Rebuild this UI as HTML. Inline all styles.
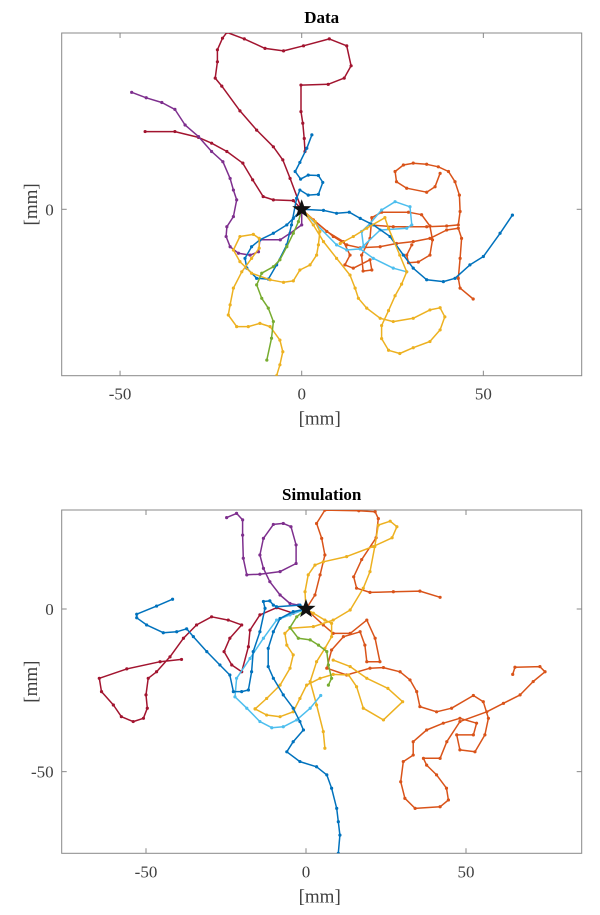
<!DOCTYPE html>
<html><head><meta charset="utf-8"><style>
body{margin:0;background:#fff;}
svg text{font-family:"Liberation Serif",serif;fill:#404040;}
</style></head><body>
<svg id="c" width="600" height="910" xmlns="http://www.w3.org/2000/svg"></svg>
<script>
// ---- Data panel (mm) ----
const dRed1=[[0,0],[-3.2,8.5],[-5.2,13.6],[-7.8,17.2],[-12.4,21.8],[-17,27.1],[-22,33.9],[-23.8,36.1],[-23.2,40.6],[-23.2,43.9],[-21.8,47.1],[-20.6,48.7],[-15.8,46.9],[-10.1,44.3],[-5,43.6],[0.5,45],[7.6,46.9],[12.4,45],[13.6,39.5],[11.7,36.1],[7.3,34.4],[-0.2,34.2],[-0.2,26.9],[0.3,23.7],[0.7,19.5],[0.9,15.9]];
const dRed2=[[-43.1,21.4],[-34.9,21.4],[-28.4,19.8],[-24.8,18.2],[-20.6,15.9],[-16.2,12.7],[-13.5,8.1],[-10.6,3.5],[-7.8,2.6],[-2.3,2.4],[0,0]];
const dPurple=[[-46.8,32.2],[-42.8,30.7],[-38.5,29.4],[-34.9,27.5],[-32.1,23.2],[-28.4,20],[-24.8,15.9],[-21.7,13.1],[-19.7,8.5],[-18.8,5.3],[-17.9,2.6],[-18.8,-2],[-20.6,-4.8],[-20.8,-7.5],[-19.7,-10.3],[-17.4,-12.1],[-14.2,-12.6],[-11.9,-11.7],[-11.5,-8.4],[-5.9,-8.4],[-3.2,-6.6],[0,-4.3],[0,0]];
const dBlue1=[[0,0],[6,-0.3],[9.6,-1.1],[13.1,-0.8],[16.1,-2.5],[19.7,-4.3],[24.3,-7.5],[28,-12.6],[30.7,-16.2],[34.4,-19.4],[39,-19.9],[42.2,-19],[46.3,-15.3],[50,-13],[54.6,-6.6],[58,-1.6]];
const dBlue2=[[0,0],[-2.3,-2.5],[-4.1,-4.3],[-7.8,-6.6],[-11.5,-8.4],[-13.8,-10.3],[-15.6,-13.5],[-15.1,-16.2],[-12.4,-19],[-9.2,-19.2],[-6.9,-15.3],[-4.1,-9.8],[-2.8,-4.3],[-1.4,3],[-0.5,5.3],[1.8,3.9],[4.6,4.1],[5.8,7.4],[4.6,9.3],[1.8,9.4],[-0.3,8.3],[-1.8,10.4],[-0.5,12.9],[1.4,16.8],[2.8,20.5]];
const dLight=[[0,0],[9.6,-9.8],[12.4,-11.2],[16.1,-10.9],[17,-10.3],[16.5,-6.1],[18.8,-3.9],[22,-0.2],[25.7,2.1],[29.8,0.7],[30.3,-4.3],[28.9,-5.2],[21.6,-5.7],[16.1,-10.9],[19.7,-13.5],[25.2,-16.2],[28.9,-17.2]];
const dOrange1=[[0,0],[3.2,-2.9],[8.7,-7.5],[12.4,-9.8],[16.1,-10.6],[21.6,-10.3],[26.1,-9.4],[30.7,-8.9],[35.3,-8],[39.9,-5.7],[43.1,-5.2],[44,-8],[43.6,-13.5],[43.1,-19],[43.6,-21.7],[47.2,-24.7]];
const dOrange2=[[0,0],[6.9,-6.1],[11.5,-8.9],[13.3,-12.6],[11.9,-15.3],[14.2,-16.2],[18.8,-13.9],[19.3,-16.7],[16.9,-17],[16.5,-12.6],[18.8,-8],[19.3,-2.3],[22,-0.8],[29.4,-0.8],[33,-1.5],[35.3,-4.6],[36,-8.4],[35.3,-12.6],[32.1,-14.5],[29.4,-14.7],[28.9,-12.6],[30.3,-9.8]];
const dOrange3=[[18.8,-4.3],[25.2,-4.8],[34.4,-4.8],[39.9,-4.6],[43.1,-4.3],[43.6,-0.6],[43.4,3.9],[42.2,7.6],[40.4,10.4],[37.6,11.7],[34.4,12.4],[30.7,12.7],[28,12.2],[25.7,10.4],[26.1,7.6],[28.9,5.8],[34.4,4.7],[36.7,6.2],[38.1,9.9]];
const dYellow1=[[0,0],[3.7,-3.4],[5,-6.1],[4.6,-9.8],[4.1,-12.6],[2.3,-15.3],[-0.5,-16.7],[-2.3,-19.7],[-5,-20.1],[-8.7,-19.4],[-13.8,-17.6],[-17,-14.4],[-18.8,-11.2],[-17,-7.5],[-13.3,-6.9],[-11.7,-8],[-11.7,-10.7],[-13.8,-13.5],[-16.5,-17.2],[-18.8,-21.7],[-19.7,-26.3],[-20.2,-29.1],[-17.9,-32.3],[-14.7,-32.3],[-11.5,-31.4],[-8.7,-32.3],[-6,-36],[-5.2,-39.2],[-6,-42.8],[-6.9,-45.8]];
const dYellow2=[[0,0],[3.2,-4.3],[6,-8.9],[9.6,-13.5],[13.3,-18.1],[14.7,-21.7],[15.6,-24.5],[17.9,-27.2],[21.6,-30],[25.2,-30.9],[30.7,-30],[35.3,-27.7],[38.1,-27.1],[39.4,-29.6],[38.1,-33.2],[35.3,-36.4],[30.7,-38.1],[27,-39.7],[23.9,-38.8],[22,-35.6],[22,-32],[23.9,-27.9],[25.7,-23.8],[27.5,-20.6],[28.9,-17.2],[27,-12.6],[23.9,-5.2],[22.9,-2.3],[17.9,-5.2],[14.2,-7.5],[10.6,-9.4]];
const dGreen=[[0,0],[-0.9,-3.4],[-2.3,-6.6],[-4.1,-10.3],[-6,-13.9],[-7.8,-15.8],[-11,-17.6],[-12.4,-20.8],[-11,-24.5],[-9.2,-27.2],[-7.8,-30.9],[-8.3,-35.5],[-9.6,-41.5]];
// ---- Simulation panel (mm) ----
const sPurple=[[0,0],[-2.4,1.2],[-5,1.7],[-8.1,4.3],[-11.3,8.4],[-13.3,12.5],[-14.4,16.6],[-13.3,21.7],[-10.2,26],[-7.1,26.3],[-4.7,25.3],[-3.1,19.7],[-3.1,14],[-8.1,11.5],[-14.4,10.7],[-18.5,10.5],[-19.6,15.6],[-19.8,22.7],[-19.8,27.4],[-21.7,29.4],[-24.8,28.1]];
const sRed=[[0,0],[-4,-1.3],[-9.2,0.4],[-14.4,-1.8],[-17.5,-6.5],[-18,-11.6],[-20.1,-19.3],[-23.2,-17.2],[-25.6,-13.1],[-23.8,-9],[-20.1,-4.9],[-24.3,-3.4],[-29.5,-2.4],[-34.2,-4.9],[-38.3,-9],[-42.5,-14.7],[-46.7,-19.3],[-49.3,-21.3],[-50,-26.4],[-49.6,-30.5],[-50.8,-33.6],[-54,-34.6],[-57.7,-33.1],[-60.2,-29.5],[-63.9,-25.4],[-64.6,-21.3],[-56,-18.4],[-45.6,-16.2],[-38.9,-15.5]];
const sBlue1=[[-41.7,3],[-46.7,0.9],[-52.9,-1.6],[-52.9,-2.7],[-49.8,-4.9],[-44.6,-7.3],[-40.4,-7],[-37.3,-6.1],[-35.2,-8.5],[-31,-13.1],[-26.9,-17.2],[-23.8,-20.3],[-22.7,-25.4],[-20.1,-25.4],[-18,-24.9],[-17,-19.3],[-16.5,-13.1],[-14.4,-7],[-12.8,0.2],[-13.3,2.3],[-11.3,2.5],[-10.2,1.2],[-9.2,0.7],[-1.9,1.2],[0,0]];
const sBlue2=[[0,0],[-4,-0.8],[-8.1,-2.9],[-10.2,-7],[-11.8,-12.1],[-11.8,-17.7],[-10.2,-21.3],[-7.1,-26.4],[-4,-30.5],[-1.9,-34.6],[-0.8,-37.2],[-4,-40.8],[-6,-43.9],[-1.9,-46.9],[3.3,-48.5],[6.5,-51],[8,-55.1],[9.6,-61.3],[10.1,-65.4],[10.6,-69.5],[10.1,-75.1]];
const sLight=[[0,0],[-5,-1.8],[-9.2,-3.4],[-13.3,-9],[-17.5,-15.2],[-21.7,-21.3],[-22.2,-27],[-18.5,-30.5],[-14.4,-34.6],[-10.7,-36.5],[-7.1,-36.2],[-2.9,-34.1],[1.3,-30.5],[4.6,-26.6]];
const sGreen=[[0,0],[-2.9,-2.4],[-5,-5.7],[-2.4,-9],[1.3,-9.5],[3.9,-11.1],[6.5,-13.1],[7,-17.2],[8,-21.3],[7,-23.4]];
const sYellow1=[[0,0],[2.3,-1.3],[5.9,-3.4],[8,-4.4],[8,-8.5],[5.9,-12.1],[3.3,-16.2],[1.3,-22.3],[3.3,-29.5],[5.4,-37.7],[5.9,-42.8]];
const sYellow2=[[-15.9,-30.7],[-12.3,-27.5],[-8.1,-23.4],[-5,-18.2],[-4,-14.1],[-6,-11.1],[-6.6,-7.5],[-5,-5.9],[2.3,-5.4],[8.5,-3.4],[13.8,-0.3],[17.9,6.4],[20,11.5],[21.5,19.2],[22.6,25.8],[26.3,27],[28.4,25.3],[26.9,21.9],[21,19.2],[12.7,16.1],[5.4,14.5],[2.8,13.5],[0.7,10.5],[-0.3,5.3],[0,0]];
const sYellow3=[[-15.9,-30.7],[-12.3,-32.6],[-8.1,-33.1],[-4,-31.6],[-1.9,-27.5],[0.2,-23.4],[4.4,-21.3],[8.5,-20.1],[13.3,-20.3],[15.8,-23.9],[17.9,-30.5],[24.2,-34.1],[30.2,-28.5],[25.6,-24.4],[19,-21.3],[13.8,-17.7],[8.5,-15.7]];
const sOrange1=[[0,0],[2.8,4.3],[4.4,10.5],[5.9,16.6],[4.9,21.7],[3.3,26.3],[5.9,30.4],[16.5,30.2],[21.6,29.9],[22.6,27.8],[21.9,21.9],[17.4,15.2],[14.9,9.9],[15.8,6.4],[20,5.1],[27.3,5.3],[35.6,5.5],[41.9,3.6]];
const sOrange2=[[0,0],[5.4,-4.9],[8.5,-7.5],[13.8,-7.5],[19,-3.4],[21.6,-9],[23.1,-16.2],[19,-16.2],[18.4,-11.1],[16.9,-7],[11.7,-8.5],[8,-12.6],[6.5,-18.2],[12.7,-20.3],[20,-18.2],[24.2,-18],[29.4,-19.3],[32.5,-21.8],[34.6,-25.4],[35.6,-30],[40.8,-31.6],[45.5,-30.5],[52.3,-26.6],[55.4,-28.5],[57,-33.6],[55.9,-38.7],[52.8,-43.9],[48.1,-43.3],[47.1,-38.7],[52.3,-38.7],[53.3,-35.1],[48.1,-33.6],[42.9,-35.1],[37.7,-37.2],[33.5,-40.8],[33.5,-44.9],[30.4,-46.9],[29.6,-53.1],[30.9,-58.2],[34.1,-61.3],[41.9,-60.8],[44.5,-58.7],[43.9,-55.1],[40.8,-51],[37.7,-48],[36.7,-45.9],[41.9,-45.9],[44,-40.8],[48.1,-34.6],[56.5,-31.6],[61.7,-29],[66.9,-26.4],[71,-22.3],[74.7,-19.3],[73.1,-17.7],[65.3,-17.9],[64.6,-20.1]];
const xTicks=[-50,0,50];
const yTicksTop=[0];
const yTicksBot=[0,-50];

const C={blue:'#0072BD',orange:'#D95319',yellow:'#EDB120',purple:'#7E2F8E',green:'#77AC30',light:'#4DBEEE',red:'#A2142F'};
const NS='http://www.w3.org/2000/svg';
const svg=document.getElementById('c');
function mk(t,a,p){const e=document.createElementNS(NS,t);for(const k in a)e.setAttribute(k,a[k]);(p||svg).appendChild(e);return e;}

function panel(cfg){
  const {L,R,T,B,x0,y0,sx,sy,title,yTicks,series,id}=cfg;
  const X=v=>x0+sx*v, Y=v=>y0-sy*v;
  const g=mk('g',{});
  
  
  const cp=mk('clipPath',{id:'cp'+id},g);mk('rect',{x:L,y:T,width:R-L,height:B-T},cp);
  const box=mk('rect',{x:L,y:T,width:R-L,height:B-T,fill:'#fff',stroke:'#888','stroke-width':1},g);
  
  
  const plot=mk('g',{'clip-path':'url(#cp'+id+')'},g);
  series.forEach(s=>{
    const sg=mk('g',{},plot);
    
    
    mk('polyline',{points:s.d.map(p=>X(p[0]).toFixed(1)+','+Y(p[1]).toFixed(1)).join(' '),fill:'none',stroke:C[s.c],'stroke-width':1.5,'stroke-linejoin':'round'},sg);
    s.d.forEach(p=>mk('circle',{cx:X(p[0]),cy:Y(p[1]),r:1.6,fill:C[s.c]},sg));
  });
  // star
  const cx=X(0),cy=Y(0);let pts=[];
  for(let i=0;i<10;i++){const r=i%2?4:10;const a=-Math.PI/2+i*Math.PI/5;pts.push((cx+r*Math.cos(a)).toFixed(1)+','+(cy+r*Math.sin(a)).toFixed(1));}
  const st=mk('polygon',{points:pts.join(' '),fill:'#111'},g);
  
  
  xTicks.forEach(v=>{
    mk('line',{x1:X(v),x2:X(v),y1:B,y2:B-5,stroke:'#888'},g);
    mk('line',{x1:X(v),x2:X(v),y1:T,y2:T+5,stroke:'#888'},g);
    const t=mk('text',{x:X(v),y:B+24,'text-anchor':'middle','font-size':17},g);t.textContent=v<0?'-'+(-v):v;
    
    
  });
  yTicks.forEach(v=>{
    mk('line',{x1:L,x2:L+5,y1:Y(v),y2:Y(v),stroke:'#888'},g);
    mk('line',{x1:R,x2:R-5,y1:Y(v),y2:Y(v),stroke:'#888'},g);
    const t=mk('text',{x:L-8,y:Y(v)+6,'text-anchor':'end','font-size':17},g);t.textContent=v<0?'-'+(-v):v;
    
    
  });
  const tt=mk('text',{x:(L+R)/2,y:T-10,'text-anchor':'middle','font-size':17,'font-weight':'bold',fill:'#000',style:'fill:#000'},g);tt.textContent=title;
  
  
  const xl=mk('text',{x:(L+R)/2-2,y:B+49,'text-anchor':'middle','font-size':19},g);xl.textContent='[mm]';
  
  
  const ym=(T+B)/2;
  const yl=mk('text',{x:37,y:ym,'text-anchor':'middle','font-size':19,transform:'rotate(-90 37 '+ym+')'},g);yl.textContent='[mm]';
  
  
}
panel({id:'data',L:61.7,R:581.7,T:33,B:375.7,x0:301.7,y0:209.3,sx:3.633,sy:3.633,title:'Data',yTicks:yTicksTop,series:[
 {name:'red-1',c:'red',d:dRed1},{name:'red-2',c:'red',d:dRed2},{name:'purple',c:'purple',d:dPurple},
 {name:'orange-1',c:'orange',d:dOrange1},{name:'orange-2',c:'orange',d:dOrange2},{name:'orange-3',c:'orange',d:dOrange3},
 {name:'light-blue',c:'light',d:dLight},{name:'blue-1',c:'blue',d:dBlue1},{name:'blue-2',c:'blue',d:dBlue2},
 {name:'yellow-1',c:'yellow',d:dYellow1},{name:'yellow-2',c:'yellow',d:dYellow2},{name:'green',c:'green',d:dGreen}]});
panel({id:'simulation',L:61.7,R:581.7,T:510,B:853.3,x0:306,y0:609,sx:3.2,sy:3.253,title:'Simulation',yTicks:yTicksBot,series:[
 {name:'orange-1',c:'orange',d:sOrange1},{name:'orange-2',c:'orange',d:sOrange2},
 {name:'purple',c:'purple',d:sPurple},{name:'red',c:'red',d:sRed},
 {name:'yellow-1',c:'yellow',d:sYellow1},{name:'yellow-2',c:'yellow',d:sYellow2},{name:'yellow-3',c:'yellow',d:sYellow3},
 {name:'light-blue',c:'light',d:sLight},{name:'blue-1',c:'blue',d:sBlue1},{name:'blue-2',c:'blue',d:sBlue2},{name:'green',c:'green',d:sGreen}]});
</script>
</body></html>
